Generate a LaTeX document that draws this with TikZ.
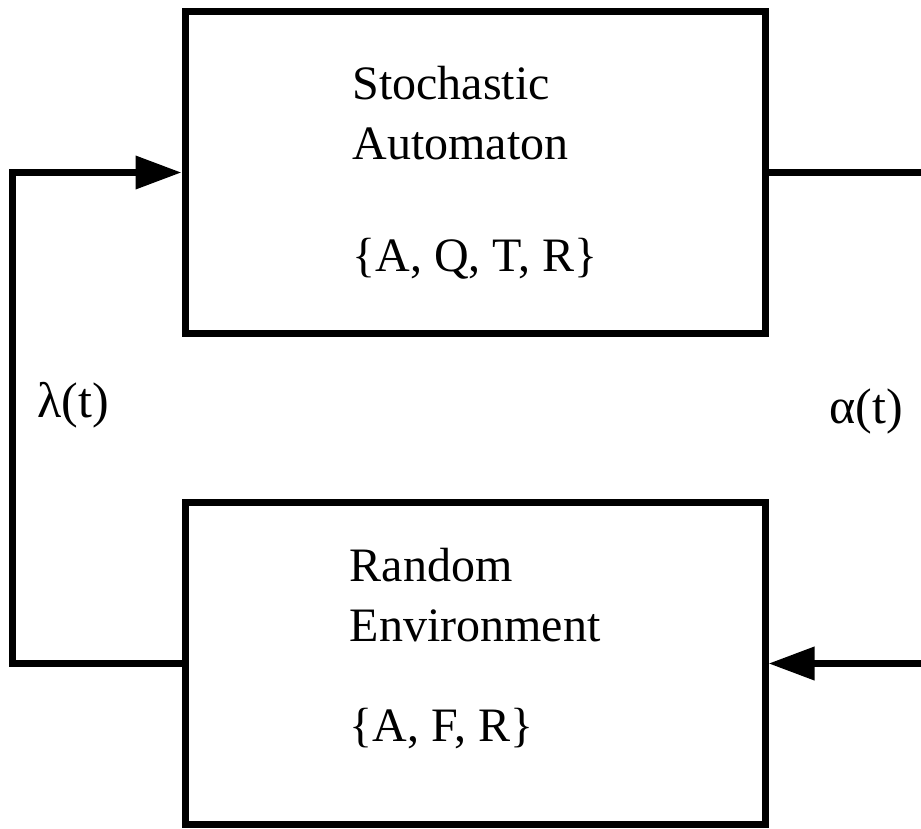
\documentclass[tikz,border=0pt]{standalone}
\usepackage{fontspec}
\setmainfont{Liberation Serif}
\usepackage{tikz}
\usetikzlibrary{arrows.meta,positioning}

\begin{document}
\begin{tikzpicture}[
    x=1pt, y=-1pt,
    node distance=162pt,
    blockbox/.style={rectangle, draw, line width=7pt, align=left,
                     minimum width=580pt, minimum height=322pt,
                     font=\fontsize{48}{60}\selectfont},
    sig/.style={font=\fontsize{50}{56}\selectfont, inner sep=0pt},
    line/.style={line width=7pt},
    arr/.style={line width=7pt, -{Triangle[length=46pt,width=32pt]}}
]
\useasboundingbox (0,0) rectangle (921,828);

%% the two blocks
\node[blockbox] (automaton) at (475,172.5)
    {Stochastic\\Automaton\\[52pt]\{A, Q, T, R\}};
\node[blockbox, below=of automaton] (environment)
    {Random\\Environment\\[40pt]\{A, F, R\}\\[-22pt]\mbox{}};

%% right edge of the picture (loop closes outside)
\coordinate (rightedge) at (921,0);

%% feedback and output lines
\draw[arr]  (environment.west) -- ++(-169,0) |- (automaton.west);
\draw[line] (automaton.east) -- (automaton.east -| rightedge);
\draw[arr]  (environment.east -| rightedge) -- (environment.east);

%% signal labels
\node[sig] (lambda) at (73,405)  {λ(t)};
\node[sig] (alpha)  at (866,411) {α(t)};

\end{tikzpicture}
\end{document}
